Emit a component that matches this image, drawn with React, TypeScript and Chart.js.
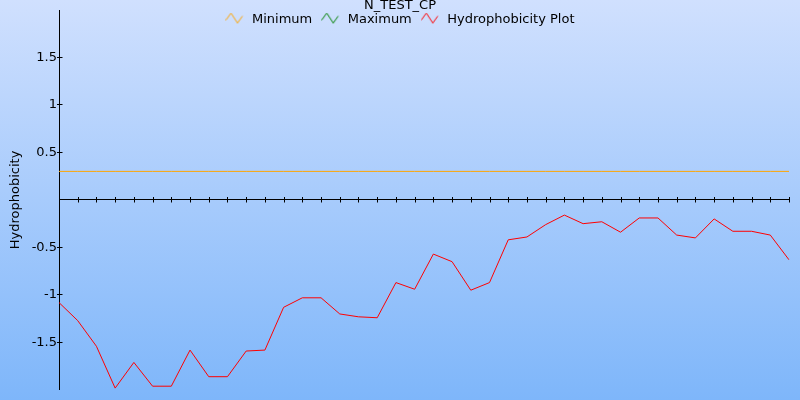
import React, { useEffect, useRef } from 'react';
import { Chart, registerables } from 'chart.js';

Chart.register(...registerables);

const chartTitle = 'N_TEST_CP';
const yAxisTitle = 'Hydrophobicity';
const seriesNames = ['Minimum', 'Maximum', 'Hydrophobicity Plot'];
const seriesColors = ['#ffa500', '#008000', '#ff0000'];

const positions = [
  '1', '2', '3', '4', '5', '6', '7', '8', '9', '10',
  '11', '12', '13', '14', '15', '16', '17', '18', '19', '20',
  '21', '22', '23', '24', '25', '26', '27', '28', '29', '30',
  '31', '32', '33', '34', '35', '36', '37', '38', '39', '40',
];

const minimumValues = [
  0.3, 0.3, 0.3, 0.3, 0.3, 0.3, 0.3, 0.3, 0.3, 0.3,
  0.3, 0.3, 0.3, 0.3, 0.3, 0.3, 0.3, 0.3, 0.3, 0.3,
  0.3, 0.3, 0.3, 0.3, 0.3, 0.3, 0.3, 0.3, 0.3, 0.3,
  0.3, 0.3, 0.3, 0.3, 0.3, 0.3, 0.3, 0.3, 0.3, 0.3,
];

const maximumValues: number[] = [];

const hydrophobicityValues = [
  -1.08, -1.27, -1.54, -1.98, -1.71, -1.96, -1.96, -1.58, -1.86, -1.86,
  -1.59, -1.58, -1.13, -1.03, -1.03, -1.2, -1.23, -1.24, -0.87, -0.94,
  -0.57, -0.65, -0.95, -0.87, -0.42, -0.39, -0.26, -0.16, -0.25, -0.23,
  -0.34, -0.19, -0.19, -0.37, -0.4, -0.2, -0.33, -0.33, -0.37, -0.63,
];

const yTickValues = [-1.5, -1, -0.5, 0.5, 1, 1.5];
const yMin = -2;
const yMax = 2;

function makeIcon(color: string): HTMLCanvasElement {
  const c = document.createElement('canvas');
  c.width = 20;
  c.height = 14;
  const ctx = c.getContext('2d')!;
  ctx.strokeStyle = color;
  ctx.lineWidth = 1;
  ctx.beginPath();
  ctx.moveTo(0.5, 7.5);
  ctx.lineTo(5.5, 0.5);
  ctx.lineTo(12, 10.5);
  ctx.lineTo(17, 3.5);
  ctx.stroke();
  return c;
}

const backgroundPlugin = {
  id: 'gradientBackground',
  afterLayout(chart: any) {
    // title and legend span the whole canvas width and may draw past their reserved height
    const w = chart.width;
    if (chart.titleBlock) {
      chart.titleBlock.left = 0;
      chart.titleBlock.right = w;
      chart.titleBlock.width = w;
    }
    if (chart.legend) {
      chart.legend.left = 0;
      chart.legend.right = w;
      chart.legend.width = w;
      chart.legend.bottom = chart.legend.top + 30;
      chart.legend.height = 30;
    }
  },
  beforeDraw(chart: any) {
    const { ctx, width, height } = chart;
    const g = ctx.createLinearGradient(0, 0, 0, height);
    g.addColorStop(0, '#d0e0fe');
    g.addColorStop(1, '#7eb6fa');
    ctx.save();
    ctx.fillStyle = g;
    ctx.fillRect(0, 0, width, height);
    ctx.restore();
  },
};

const crossAxesPlugin = {
  id: 'crossAxes',
  beforeDatasetsDraw(chart: any) {
    const { ctx, chartArea, scales } = chart;
    const xs = scales.x;
    const ys = scales.y;
    const ax = Math.round(chartArea.left) + 0.5;
    const ay = Math.floor(ys.getPixelForValue(0)) + 0.5;
    ctx.save();
    ctx.strokeStyle = '#000';
    ctx.lineWidth = 1;
    ctx.beginPath();
    ctx.moveTo(ax, Math.round(chartArea.top));
    ctx.lineTo(ax, chartArea.bottom);
    ctx.moveTo(chartArea.left, ay);
    ctx.lineTo(chartArea.right, ay);
    yTickValues.forEach((v) => {
      const y = Math.floor(ys.getPixelForValue(v)) + 0.5;
      ctx.moveTo(ax - 2.5, y);
      ctx.lineTo(ax + 3, y);
    });
    positions.forEach((_, i) => {
      if (i === 0) return;
      const x = Math.round(xs.getPixelForValue(i)) + 0.5;
      ctx.moveTo(x, ay - 2.5);
      ctx.lineTo(x, ay + 3);
    });
    ctx.stroke();
    ctx.restore();
  },
};

export default function App() {
  const canvasRef = useRef<HTMLCanvasElement | null>(null);

  useEffect(() => {
    if (!canvasRef.current) return;
    const font = { family: 'DejaVu Sans', size: 13 };
    const seriesData = [minimumValues, maximumValues, hydrophobicityValues];
    const chart = new Chart(canvasRef.current, {
      type: 'line',
      data: {
        labels: positions,
        datasets: seriesNames.map((name, i) => ({
          label: name,
          data: seriesData[i],
          borderColor: seriesColors[i],
          backgroundColor: seriesColors[i],
          borderWidth: 1,
          pointRadius: 0,
          pointHoverRadius: 0,
          pointStyle: makeIcon(seriesColors[i]) as any,
          tension: 0,
          fill: false,
        })),
      },
      options: {
        responsive: false,
        devicePixelRatio: 1,
        animation: false,
        layout: { padding: { top: 0, right: 11, bottom: 10, left: 0 } },
        plugins: {
          title: {
            display: true,
            text: chartTitle,
            color: '#000',
            font: { family: 'DejaVu Sans', size: 13, weight: 'normal', lineHeight: '10px' } as any,
            padding: { top: -0.5, bottom: -7 } as any,
          },
          legend: {
            display: true,
            position: 'top',
            maxHeight: 5.76,
            labels: {
              usePointStyle: true,
              pointStyleWidth: 20,
              padding: 9,
              color: '#000',
              font,
            },
          },
          tooltip: { enabled: false },
        },
        scales: {
          x: {
            type: 'category',
            display: false,
            offset: false,
          },
          y: {
            type: 'linear',
            min: yMin,
            max: yMax,
            grid: { display: false, drawTicks: false },
            border: { display: false },
            afterBuildTicks(scale: any) {
              scale.ticks = yTickValues.map((value) => ({ value }));
            },
            afterFit(scale: any) {
              scale.width = 59;
            },
            ticks: {
              padding: 2,
              color: '#000',
              font,
              callback: (value: any) => String(value),
            },
            title: {
              display: true,
              text: yAxisTitle,
              color: '#000',
              font,
              padding: { top: 8, bottom: 0 },
            },
          },
        },
      },
      plugins: [backgroundPlugin, crossAxesPlugin],
    });
    return () => chart.destroy();
  }, []);

  return (
    <div style={{ position: 'fixed', left: 0, top: 0, width: 800, height: 400 }}>
      <canvas ref={canvasRef} width={800} height={400} style={{ display: 'block' }} />
    </div>
  );
}
